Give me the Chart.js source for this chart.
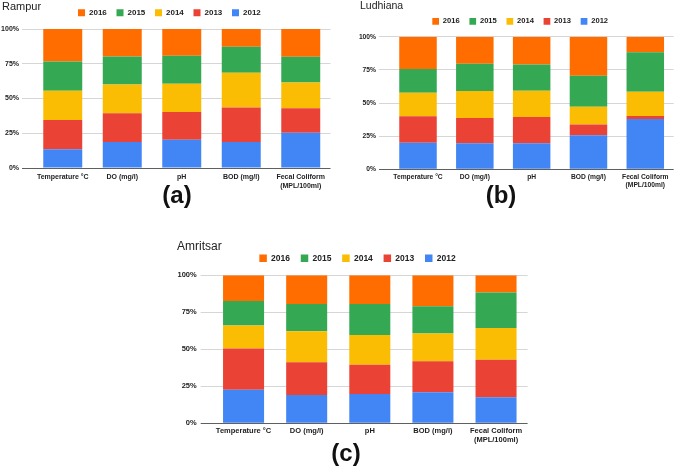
<!DOCTYPE html>
<html>
<head>
<meta charset="utf-8">
<script src="https://cdn.jsdelivr.net/npm/chart.js@4"></script>
<style>
  body { margin: 0; background: #fff; font-family: Arial, "Liberation Sans", sans-serif; }
  #fig { position: relative; width: 685px; height: 466px; overflow: hidden; }
  canvas { position: absolute; }
  .name { position: absolute; color: #222; line-height: 1; white-space: nowrap; }
  .tag { position: absolute; font-weight: bold; font-size: 24px; line-height: 1; color: #111; transform: translate(-50%, -50%); }
</style>
</head>
<body>
<div id="fig">
  <canvas id="rampur" width="339" height="200" style="left:0;top:-4px"></canvas>
  <canvas id="ludhiana" width="361" height="200" style="left:340px;top:0"></canvas>
  <canvas id="amritsar" width="395" height="236" style="left:160px;top:230px"></canvas>

  <div class="name" style="left:2px;top:1px;font-size:11px">Rampur</div>
  <div class="name" style="left:360px;top:0;font-size:10.5px">Ludhiana</div>
  <div class="name" style="left:177px;top:240px;font-size:12px">Amritsar</div>

  <div class="tag" style="left:177px;top:195px">(a)</div>
  <div class="tag" style="left:501px;top:195px">(b)</div>
  <div class="tag" style="left:346px;top:453px">(c)</div>
</div>

<script>
// --------------------------------
// || Data (share of each year, %)
// --------------------------------

const categories = ['Temperature °C', 'DO (mg/l)', 'pH', 'BOD (mg/l)', ['Fecal Coliform', '(MPL/100ml)']];
const years = ['2012', '2013', '2014', '2015', '2016'];
const yTicks = [0, 25, 50, 75, 100];

const rampur2012 = [13.4, 18.7, 20.4, 18.7, 25.4];
const rampur2013 = [21.1, 20.6, 19.9, 24.9, 17.5];
const rampur2014 = [21.1, 20.7, 20.4, 25.0, 18.7];
const rampur2015 = [21.1, 20.3, 20.1, 18.7, 18.5];
const rampur2016 = [23.3, 19.7, 19.2, 12.7, 19.9];

const ludhiana2012 = [20.1, 19.6, 19.6, 25.6, 37.9];
const ludhiana2013 = [19.9, 19.1, 19.8, 8.1, 2.3];
const ludhiana2014 = [17.8, 20.3, 19.9, 13.5, 18.3];
const ludhiana2015 = [17.8, 20.6, 19.8, 23.4, 29.7];
const ludhiana2016 = [24.4, 20.4, 20.9, 29.4, 11.8];

const amritsar2012 = [22.7, 19.1, 19.8, 20.9, 17.6];
const amritsar2013 = [27.8, 22.1, 19.8, 21.0, 25.4];
const amritsar2014 = [15.5, 21.0, 20.1, 18.7, 21.4];
const amritsar2015 = [16.7, 18.4, 20.9, 18.5, 23.9];
const amritsar2016 = [17.3, 19.4, 19.4, 20.9, 11.7];

const yearColors = ['#4285f4', '#ea4335', '#fbbc04', '#34a853', '#ff6d01'];

// --------------------------------
// || Layout per panel
// --------------------------------

// yW = left axis width, rw = empty right axis (only there to shift the legend centre)
const panelA = { padR: 0.2, yW: 33, rw: 8.3, padT: 3, xH: 28, tickLen: 11, yPad: 3, xPad: 5,
    tickFont: 7, legendFont: 8, box: 7, legendPad: 9.7, gap: 2.3, bar: 0.655 };
const panelB = { padR: 0.6, yW: 49.6, rw: 26.7, padT: 7.8, xH: 30.7, tickLen: 10.6, yPad: 3, xPad: 4,
    tickFont: 6.7, legendFont: 7.6, box: 6.7, legendPad: 9.7, gap: 1.6, bar: 0.66 };
const panelC = { padR: 0, yW: 52, rw: 27.4, padT: 13.3, xH: 42.7, tickLen: 11.3, yPad: 4, xPad: 3.5,
    tickFont: 7.5, legendFont: 8.5, box: 7.5, legendPad: 10.75, gap: 2.75, bar: 0.65 };

// legend padding also sets item spacing, so the gap below it is added here
const legendGap = {
    id: 'legendGap',
    beforeLayout(chart, args, opts) {
        const lg = chart.legend;
        if (!lg || lg.gapDone) return;
        const fit = lg.fit;
        lg.fit = function () {
            fit.call(this);
            this.height += opts.gap || 0;
        };
        lg.gapDone = true;
    }
};

function makeChart(id, series, s) {
    const datasets = series.map((values, i) => ({
        label: years[i],
        data: values,
        backgroundColor: yearColors[i],
        borderWidth: 0,
        categoryPercentage: 1,
        barPercentage: s.bar
    }));

    return new Chart(document.getElementById(id), {
        type: 'bar',
        data: { labels: categories, datasets: datasets },
        plugins: [legendGap],
        options: {
            responsive: false,
            animation: false,
            layout: { padding: { left: 0, right: s.padR, top: s.padT, bottom: 0 } },
            plugins: {
                legendGap: { gap: s.gap },
                tooltip: { enabled: false },
                legend: {
                    position: 'top',
                    reverse: true,
                    labels: {
                        boxWidth: s.box,
                        boxHeight: s.box,
                        padding: s.legendPad,
                        color: '#222',
                        font: { family: 'Arial', size: s.legendFont, weight: 'bold' }
                    }
                }
            },
            scales: {
                x: {
                    stacked: true,
                    grid: { display: false, drawTicks: false },
                    border: { display: false },
                    ticks: {
                        autoSkip: false,
                        maxRotation: 0,
                        padding: s.xPad,
                        color: '#222',
                        font: { family: 'Arial', size: s.tickFont, weight: 'bold', lineHeight: 1.2 }
                    },
                    afterFit: sc => { sc.height = s.xH; }
                },
                y: {
                    stacked: true,
                    min: yTicks[0],
                    max: yTicks[yTicks.length - 1],
                    border: { display: false },
                    grid: {
                        color: ctx => (ctx.tick && ctx.tick.value === 0) ? '#5f5f5f' : '#d6d6d6',
                        tickLength: s.tickLen
                    },
                    ticks: {
                        stepSize: yTicks[1] - yTicks[0],
                        padding: s.yPad,
                        color: '#222',
                        font: { family: 'Arial', size: s.tickFont, weight: 'bold' },
                        callback: v => v + '%'
                    },
                    afterFit: sc => { sc.width = s.yW; }
                },
                spacer: {
                    position: 'right',
                    grid: { display: false, drawTicks: false },
                    border: { display: false },
                    ticks: { display: false },
                    afterFit: sc => { sc.width = s.rw; }
                }
            }
        }
    });
}

makeChart('rampur', [rampur2012, rampur2013, rampur2014, rampur2015, rampur2016], panelA);
makeChart('ludhiana', [ludhiana2012, ludhiana2013, ludhiana2014, ludhiana2015, ludhiana2016], panelB);
makeChart('amritsar', [amritsar2012, amritsar2013, amritsar2014, amritsar2015, amritsar2016], panelC);
</script>
</body>
</html>
